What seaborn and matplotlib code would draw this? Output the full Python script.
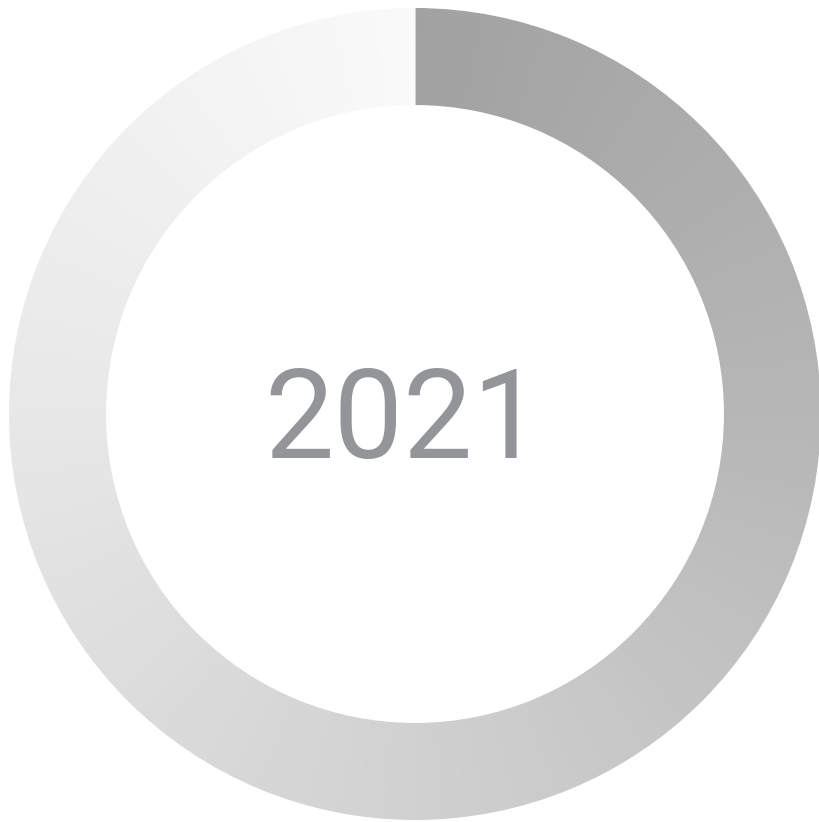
import numpy as np
import seaborn as sns
import matplotlib.pyplot as plt

# Chart data
year_label = "2021"
shares = [100]
gradient_stops = ["#a2a2a2", "#b7b7b7", "#d1d1d1", "#e8e8e8", "#fafafa"]

sns.set_style("white")
plt.rcParams['font.family'] = ['Roboto', 'DejaVu Sans']

W, H, R = 819, 822, 406
cx, cy = 415, 414

fig = plt.figure(figsize=(W / 100, H / 100), dpi=100)
ax = fig.add_axes([0, 0, 1, 1])

wedges, _ = ax.pie(shares, radius=1, startangle=90, counterclock=False,
                   colors=["none"], wedgeprops=dict(width=0.239, linewidth=0))

# conic gradient, clockwise from 12 o'clock
cmap = sns.blend_palette(gradient_stops, as_cmap=True)
g = np.linspace(-1.02, 1.02, 900)
xx, yy = np.meshgrid(g, g)
ang = (np.degrees(np.arctan2(xx, yy)) % 360) / 360
img = ax.imshow(ang, cmap=cmap, vmin=0, vmax=1, extent=(-1.02, 1.02, -1.02, 1.02),
                origin="lower", interpolation="bilinear")
img.set_clip_path(wedges[0])

ax.text((403 - cx) / R, (cy - 424) / R, year_label, ha="center", va="center",
        fontsize=89, color="#939598")

ax.set_xlim(-cx / R, (W - cx) / R)
ax.set_ylim(-(H - cy) / R, cy / R)
ax.set_aspect("equal")
ax.axis("off")

fig.savefig("out.png", dpi=100, facecolor="white")
